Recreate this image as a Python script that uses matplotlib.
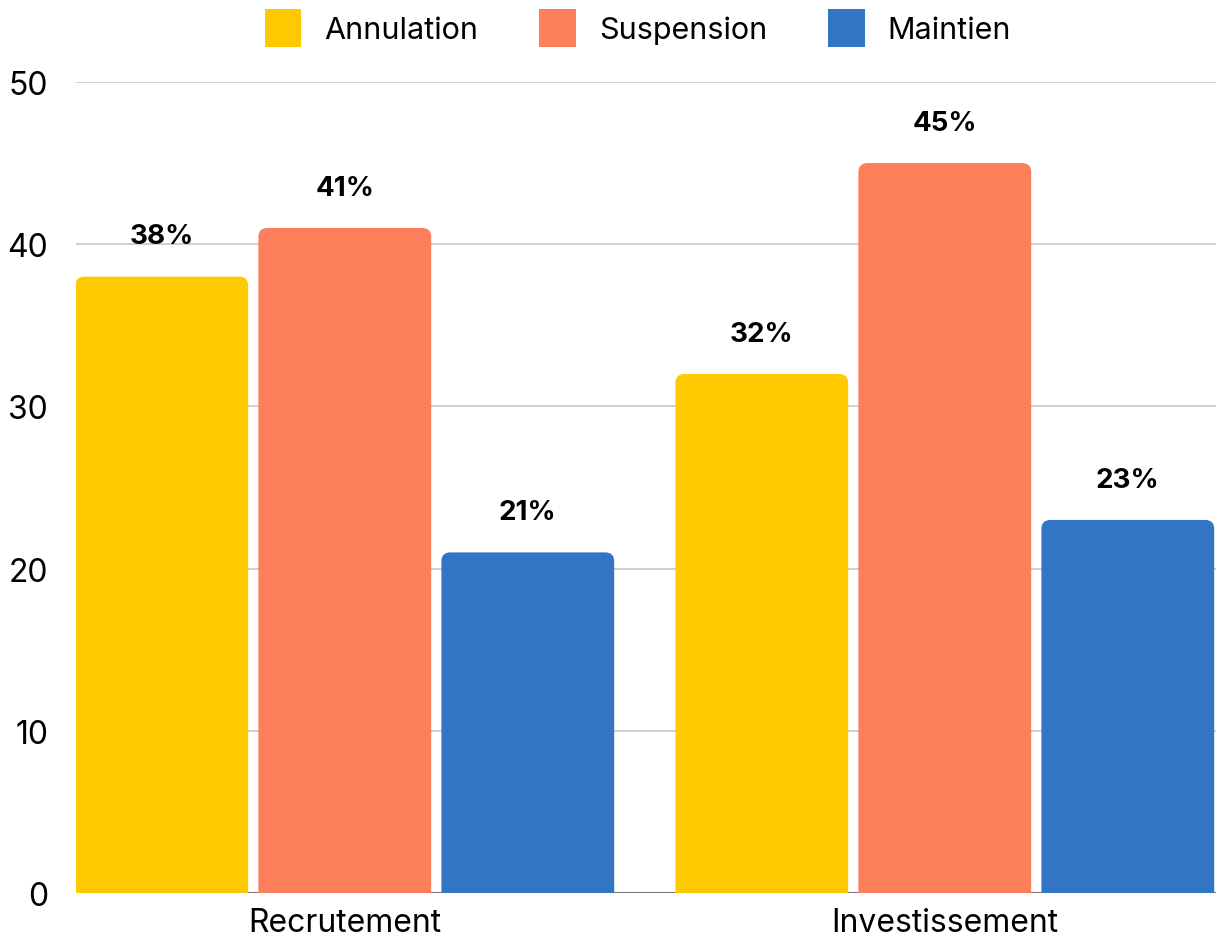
import matplotlib.pyplot as plt
from matplotlib.patches import FancyBboxPatch, Patch
import numpy as np

categories = ["Recrutement", "Investissement"]
series = ["Annulation", "Suspension", "Maintien"]
annulation = [38, 32]
suspension = [41, 45]
maintien = [21, 23]
colors = ["#FDCA02", "#FC7E5A", "#3275C4"]
y_ticks = [0, 10, 20, 30, 40, 50]

plt.rcParams["font.family"] = ["Inter", "DejaVu Sans"]

W, H, DPI = 1221, 945, 100
fig = plt.figure(figsize=(W / DPI, H / DPI), dpi=DPI)
ax = fig.add_axes([76 / W, 1 - 894 / H, (1216 - 76) / W, (894 - 83) / H])

ax.set_xlim(-0.448, 1.452)
ax.set_ylim(0, 50)

# pixel -> data scale, used for rounded corners
px_x = 1.9 / (1216 - 76)
px_y = 50 / (894 - 83)
radius_px = 9

step = 0.305
width = 0.288
x = np.arange(len(categories))
for i, (values, color) in enumerate(zip([annulation, suspension, maintien], colors)):
    offset = (i - 1) * step
    for xi, v in zip(x, values):
        left = xi + offset - width / 2
        box = FancyBboxPatch(
            (left, -2), width, v + 2,
            boxstyle=f"round,pad=0,rounding_size={radius_px * px_x}",
            mutation_aspect=px_y / px_x,
            facecolor=color, edgecolor="none", zorder=3,
        )
        ax.add_patch(box)
        ax.annotate(
            f"{v}%",
            xy=(xi + offset, v),
            xytext=(0, 29),
            textcoords="offset points",
            ha="center",
            va="center",
            fontsize=20,
            fontweight="bold",
            color="black",
            zorder=4,
        )

ax.set_yticks(y_ticks)
ax.set_xticks(x)
ax.set_xticklabels(categories)
ax.set_axisbelow(True)
ax.grid(axis="y", color="#cccccc", linewidth=1.3)
ax.axhline(0, color="#777777", linewidth=2.2, zorder=2.5)
for s in ax.spines.values():
    s.set_visible(False)
ax.tick_params(axis="y", length=0, pad=20, labelsize=23)
ax.tick_params(axis="x", length=0, pad=10, labelsize=23)

handles = [Patch(facecolor=c, edgecolor="none") for c in colors]
fig.legend(
    handles, series,
    loc="center", bbox_to_anchor=(638 / W, 1 - 29 / H),
    ncol=3, frameon=False, fontsize=22,
    handlelength=1.2, handleheight=1.5,
    handletextpad=0.75, columnspacing=2.0,
)

fig.savefig("out.png", dpi=DPI)
